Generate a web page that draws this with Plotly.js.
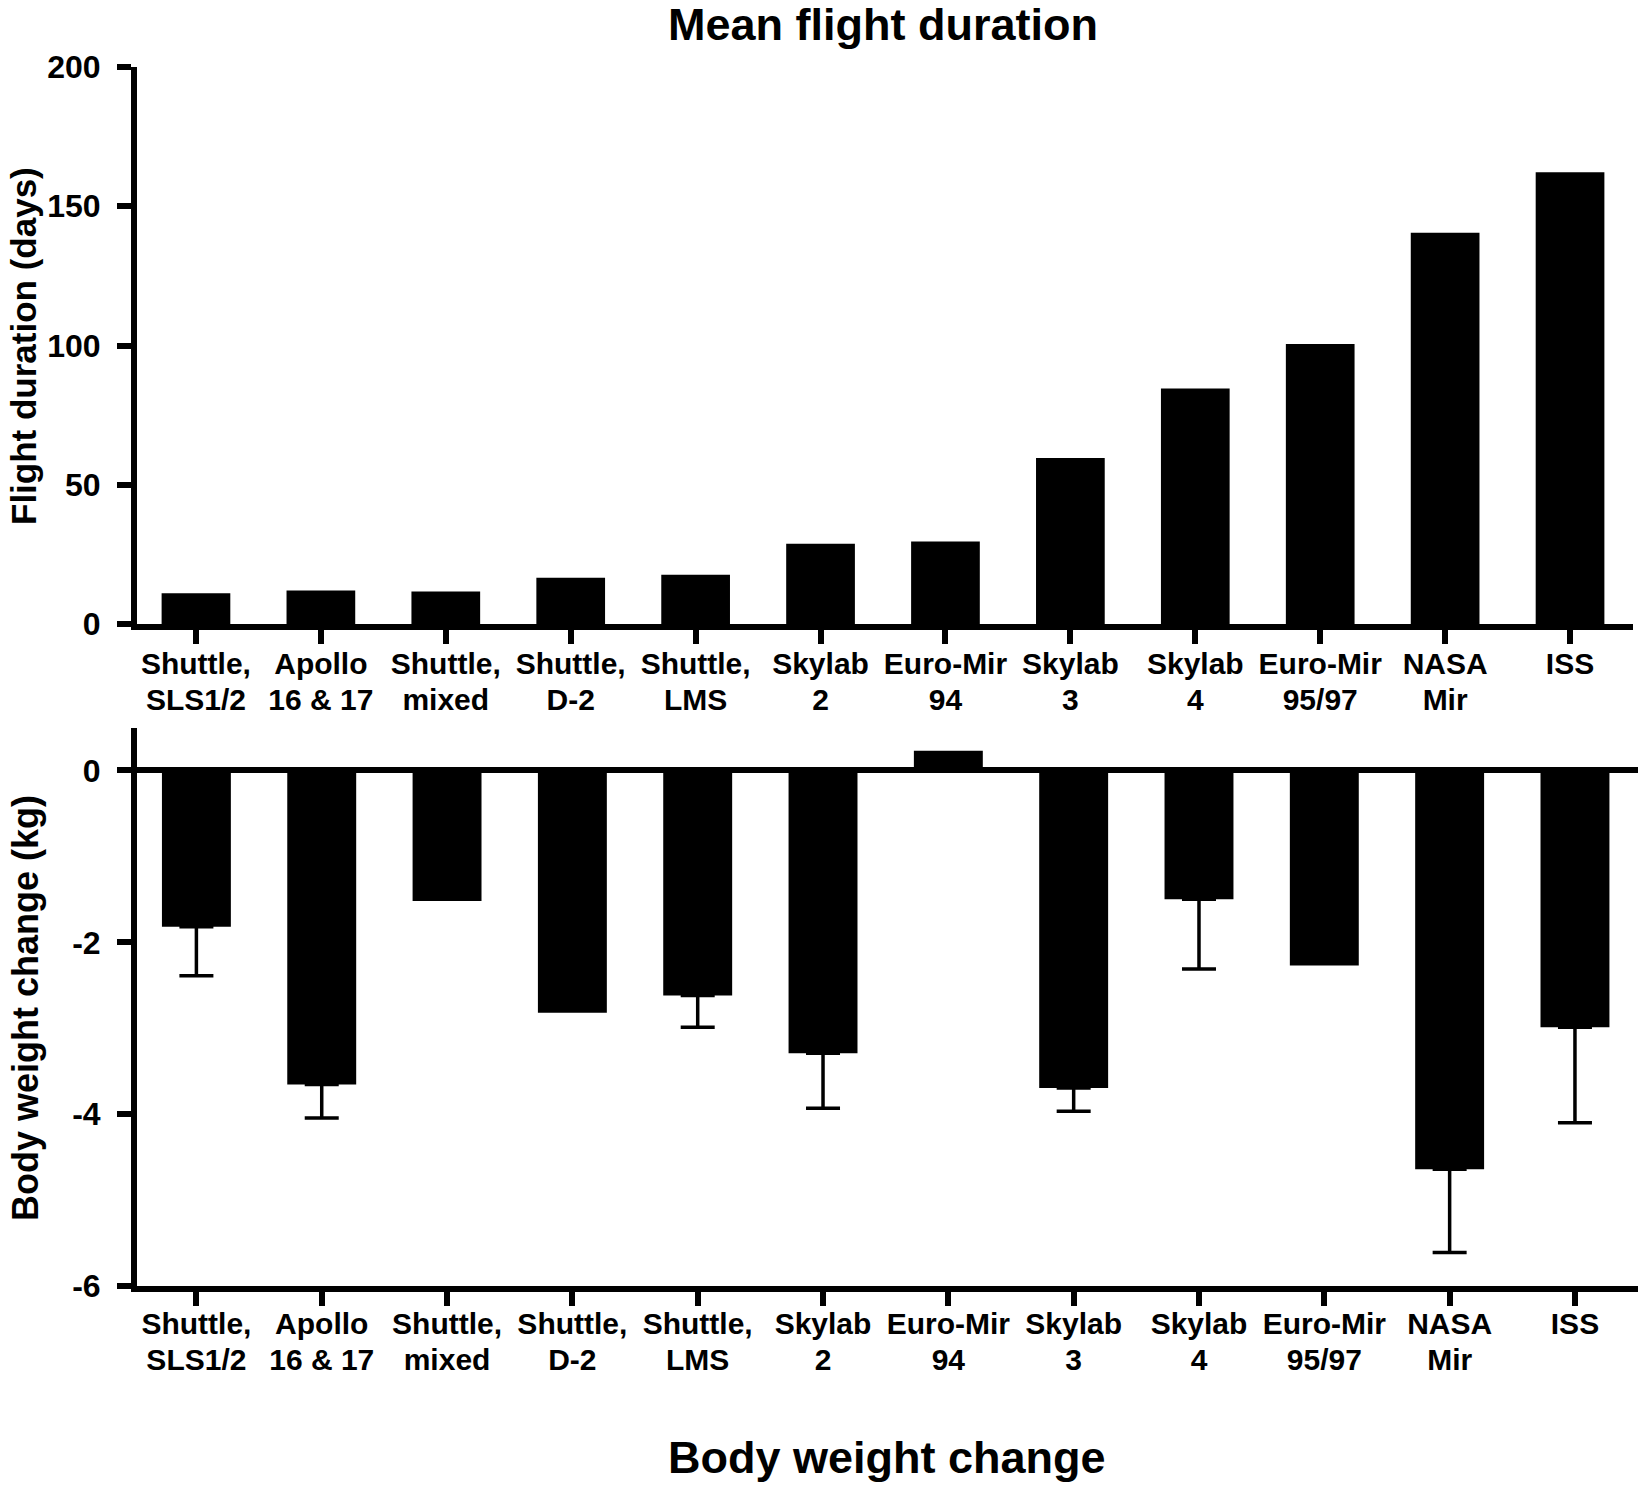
<!DOCTYPE html>
<html>
<head>
<meta charset="utf-8">
<script src="https://cdn.plot.ly/plotly-3.0.1.min.js"></script>
<style>
  html, body { margin: 0; padding: 0; background: #ffffff; }
  #chart { width: 1650px; height: 1490px; }
</style>
</head>
<body>
<div id="chart"></div>
<script>
// ---- data ----
const missions = [
  "Shuttle, SLS1/2", "Apollo 16 & 17", "Shuttle, mixed", "Shuttle, D-2",
  "Shuttle, LMS", "Skylab 2", "Euro-Mir 94", "Skylab 3",
  "Skylab 4", "Euro-Mir 95/97", "NASA Mir", "ISS"
];
const labelLine1 = ["Shuttle,", "Apollo", "Shuttle,", "Shuttle,", "Shuttle,", "Skylab",
                    "Euro-Mir", "Skylab", "Skylab", "Euro-Mir", "NASA", "ISS"];
const labelLine2 = ["SLS1/2", "16 & 17", "mixed", "D-2", "LMS", "2",
                    "94", "3", "4", "95/97", "Mir", ""];
const flightDays = [11, 12, 11.7, 16.6, 17.7, 28.8, 29.6, 59.6, 84.6, 100.5, 140.5, 162.2];
const weightChange = [-1.82, -3.655, -1.52, -2.82, -2.62, -3.29, 0.23, -3.695, -1.50, -2.27, -4.64, -2.99];
const weightErrMinus = [0.57, 0.39, null, null, 0.37, 0.64, null, 0.27, 0.81, null, 0.97, 1.11];
const weightErrPlus  = [0, 0, null, null, 0, 0, null, 0, 0, null, 0, 0];
const durationTicks = [0, 50, 100, 150, 200];
const weightTickVals = [-6, -4, -2, 0];
const weightTickText = ["-6", "-4", "-2", "0"];
const chartTitle = "Mean flight duration";
const lowerTitle = "Body weight change";
const yTitleTop = "Flight duration (days)";
const yTitleBottom = "Body weight change (kg)";

// ---- layout helpers ----
const W = 1650, H = 1490;
const px = v => v / W;
const py = v => 1 - v / H;
const FAM = "Liberation Sans, Arial, Helvetica, sans-serif";
const boldFont = (s) => ({ family: FAM, size: s, color: "#000", weight: "bold" });
// missing error values -> NaN so Plotly skips that error bar entirely
const noErr = arr => arr.map(v => (v === null ? NaN : v));

// tick text: glyphs drawn at 30px, line spacing set by the 27px tick font
const span = t => '<span style="font-size:30px">' + t + '</span>';
const tickText = labelLine1.map((a, i) =>
  labelLine2[i] ? span(a) + '<br>' + span(labelLine2[i]) : span(a));

const axisCommon = {
  showline: true, linecolor: "#000", linewidth: 6,
  ticks: "outside", ticklen: 14, tickwidth: 6, tickcolor: "#000",
  showgrid: false, zeroline: false, fixedrange: true
};

const traces = [
  {
    type: "bar", x: missions, y: flightDays, xaxis: "x", yaxis: "y",
    width: 0.55, marker: { color: "#000", line: { width: 0 } },
    hoverinfo: "x+y", showlegend: false
  },
  {
    type: "bar", x: missions, y: weightChange, xaxis: "x2", yaxis: "y2",
    width: 0.55, marker: { color: "#000", line: { width: 0 } },
    error_y: {
      type: "data", symmetric: false,
      array: noErr(weightErrPlus), arrayminus: noErr(weightErrMinus),
      width: 17, thickness: 3.5, color: "#000"
    },
    hoverinfo: "x+y", showlegend: false
  }
];

const layout = {
  width: W, height: H, autosize: false,
  margin: { l: 0, r: 0, t: 0, b: 0, pad: 0 },
  paper_bgcolor: "#fff", plot_bgcolor: "#fff",
  showlegend: false,
  xaxis: Object.assign({}, axisCommon, {
    domain: [px(137), px(1633)], anchor: "y", type: "category",
    categoryorder: "array", categoryarray: missions,
    tickvals: missions, ticktext: tickText, tickangle: 0,
    range: [-0.472, 11.504], ticklabelstandoff: -2,
    tickfont: boldFont(27)
  }),
  yaxis: Object.assign({}, axisCommon, {
    domain: [py(624), py(67)], anchor: "x",
    range: [0, 200], tickvals: durationTicks,
    ticklabelstandoff: 10,
    tickfont: boldFont(32)
  }),
  xaxis2: Object.assign({}, axisCommon, {
    domain: [px(137), px(1638)], anchor: "y2", type: "category",
    categoryorder: "array", categoryarray: missions,
    tickvals: missions, ticktext: tickText, tickangle: 0,
    range: [-0.474, 11.503], ticklabelstandoff: -4,
    tickfont: boldFont(27)
  }),
  yaxis2: Object.assign({}, axisCommon, {
    domain: [py(1286), py(727.5)], anchor: "x2",
    range: [-6, 0.5], tickvals: weightTickVals, ticktext: weightTickText,
    zeroline: true, zerolinecolor: "#000", zerolinewidth: 6,
    ticklabelstandoff: 10,
    tickfont: boldFont(32)
  }),
  annotations: [
    { text: chartTitle, xref: "paper", yref: "paper", x: px(883), y: py(24),
      xanchor: "center", yanchor: "middle", showarrow: false, font: boldFont(45) },
    { text: lowerTitle, xref: "paper", yref: "paper", x: px(887), y: py(1457),
      xanchor: "center", yanchor: "middle", showarrow: false, font: boldFont(45) },
    { text: yTitleTop, xref: "paper", yref: "paper", x: px(23), y: py(346),
      xanchor: "center", yanchor: "middle", textangle: -90, showarrow: false, font: boldFont(35) },
    { text: yTitleBottom, xref: "paper", yref: "paper", x: px(25), y: py(1008),
      xanchor: "center", yanchor: "middle", textangle: -90, showarrow: false, font: boldFont(36) }
  ]
};

Plotly.newPlot("chart", traces, layout, { displayModeBar: false, staticPlot: true });
</script>
</body>
</html>
